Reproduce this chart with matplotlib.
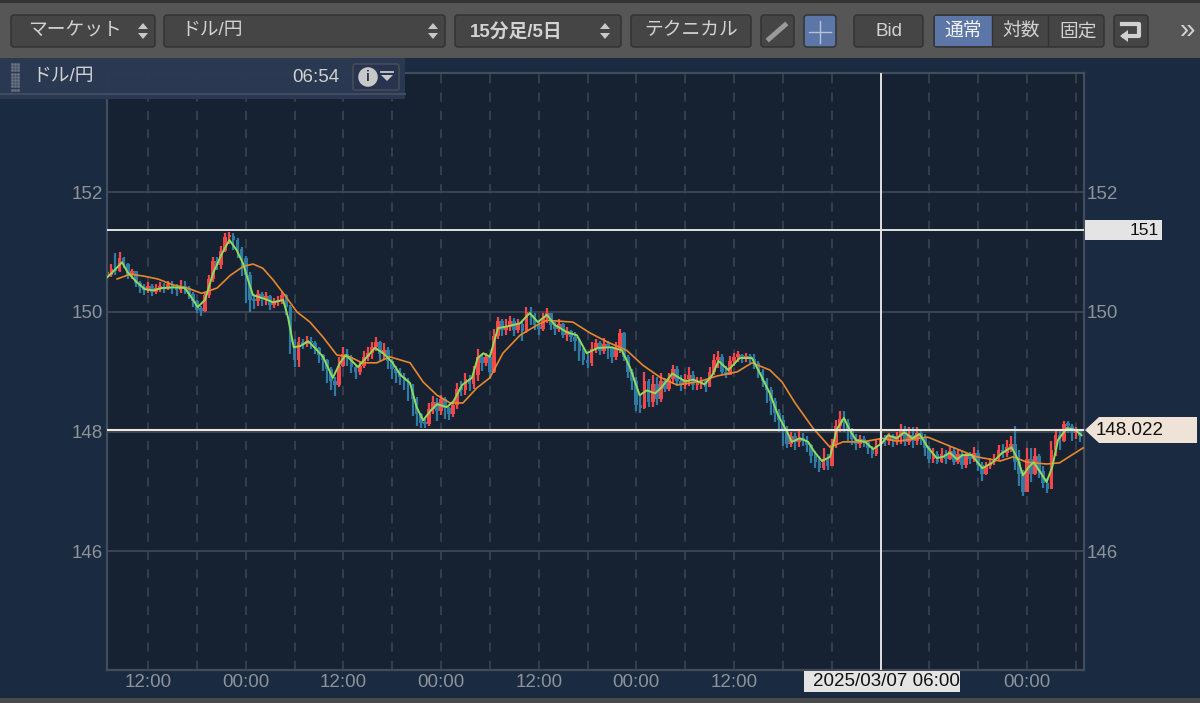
import numpy as np
import matplotlib
matplotlib.use("Agg")
import matplotlib.pyplot as plt
from matplotlib.patches import FancyBboxPatch, Rectangle, Polygon

plt.rcParams['font.family'] = ['Liberation Sans', 'Noto Sans CJK JP', 'DejaVu Sans']

# 30 minute bars, hours counted from the first 12:00 tick
first_hour = -5.0
bar_step = 0.5
closes = [
150.62,150.72,150.68,150.90,150.80,150.62,150.68,150.48,150.42,150.36,
150.44,150.34,150.40,150.42,150.38,150.46,150.42,150.36,150.44,150.40,
150.30,150.18,150.04,150.02,150.28,150.55,150.85,150.78,151.02,151.25,
151.26,151.20,151.05,150.90,150.62,150.20,150.18,150.30,150.22,150.26,
150.12,150.16,150.18,150.28,150.08,149.50,149.20,149.50,149.46,149.52,
149.48,149.40,149.28,149.20,149.05,148.85,148.78,149.10,149.30,149.24,
149.08,149.00,149.10,149.25,149.32,149.42,149.50,149.30,149.36,149.18,
149.05,148.98,148.92,148.85,148.78,148.55,148.30,148.14,148.12,148.38,
148.50,148.35,148.55,148.40,148.30,148.45,148.72,148.70,148.88,148.80,
148.95,149.25,149.15,149.25,149.00,149.60,149.85,149.70,149.75,149.85,
149.70,149.80,149.68,150.00,149.95,149.78,149.72,149.90,149.98,149.78,
149.72,149.80,149.62,149.68,149.58,149.52,149.35,149.20,149.15,149.38,
149.48,149.35,149.46,149.40,149.25,149.40,149.65,149.25,149.00,148.85,
148.45,148.40,148.85,148.50,148.80,148.55,148.85,148.72,148.88,149.05,
148.85,148.78,148.88,148.95,148.78,148.82,148.85,148.75,149.00,149.20,
149.25,149.00,148.95,149.18,149.25,149.28,149.22,149.26,149.22,149.15,
149.00,148.85,148.70,148.52,148.32,148.20,148.05,147.80,147.92,147.82,
147.90,147.85,147.78,147.60,147.50,147.40,147.55,147.42,147.78,148.10,
148.22,148.15,148.02,147.88,147.80,147.88,147.82,147.72,147.62,147.78,
147.90,147.84,147.92,147.85,147.92,148.02,147.82,147.95,147.85,147.98,
147.90,147.72,147.55,147.62,147.50,147.62,147.55,147.68,147.50,147.62,
147.45,147.60,147.55,147.65,147.45,147.30,147.42,147.50,147.55,147.70,
147.65,147.75,147.80,147.50,147.30,147.00,147.55,147.30,147.60,147.35,
147.15,147.05,147.70,147.95,147.85,148.12,148.10,147.98,148.02,147.92]
highs = [
150.70,150.80,150.98,151.00,150.92,150.82,150.72,150.68,150.52,150.46,
150.50,150.46,150.46,150.50,150.48,150.52,150.52,150.46,150.54,150.52,
150.44,150.34,150.20,150.10,150.32,150.62,150.92,150.92,151.10,151.32,
151.34,151.32,151.24,151.08,150.94,150.66,150.30,150.36,150.34,150.34,
150.28,150.24,150.26,150.34,150.30,150.12,149.55,149.58,149.55,149.60,
149.58,149.52,149.42,149.30,149.22,149.08,148.92,149.25,149.42,149.38,
149.28,149.12,149.18,149.34,149.42,149.50,149.58,149.52,149.48,149.42,
149.22,149.10,149.06,148.98,148.90,148.80,148.58,148.32,148.22,148.48,
148.60,148.56,148.62,148.58,148.42,148.52,148.82,148.85,148.98,148.94,
149.10,149.38,149.30,149.32,149.30,149.72,149.92,149.88,149.88,149.94,
149.90,149.88,149.85,150.08,150.08,149.98,149.85,149.98,150.06,149.98,
149.84,149.88,149.82,149.75,149.70,149.66,149.56,149.40,149.30,149.50,
149.55,149.52,149.56,149.52,149.42,149.50,149.72,149.66,149.28,149.05,
148.92,148.62,149.00,148.88,148.95,148.92,148.98,148.90,148.98,149.12,
149.10,148.94,148.96,149.08,149.02,148.92,148.92,148.88,149.08,149.30,
149.34,149.30,149.10,149.26,149.32,149.34,149.30,149.32,149.30,149.30,
149.18,149.04,148.90,148.74,148.56,148.38,148.28,148.10,148.00,147.98,
148.02,147.98,147.92,147.80,147.68,147.60,147.72,147.62,147.88,148.20,
148.35,148.34,148.22,148.06,147.96,147.94,147.92,147.86,147.76,147.86,
148.04,147.94,147.98,147.96,148.00,148.12,148.10,148.08,148.08,148.08,
148.04,147.96,147.76,147.72,147.68,147.72,147.70,147.76,147.74,147.70,
147.68,147.66,147.66,147.74,147.70,147.50,147.50,147.56,147.62,147.78,
147.80,147.86,147.92,148.10,147.70,147.36,147.72,147.72,147.72,147.62,
147.42,147.22,147.85,148.02,148.02,148.18,148.18,148.12,148.08,148.02]
lows = [
150.52,150.58,150.62,150.66,150.74,150.55,150.55,150.42,150.32,150.28,
150.32,150.26,150.30,150.34,150.32,150.36,150.30,150.26,150.32,150.30,
150.22,150.08,149.98,149.94,150.00,150.24,150.50,150.70,150.72,151.00,
151.14,151.04,150.90,150.60,150.15,150.00,150.05,150.10,150.10,150.12,
150.04,150.06,150.10,150.14,149.95,149.30,149.08,149.08,149.38,149.42,
149.38,149.30,149.15,149.02,148.82,148.70,148.60,148.75,149.08,149.10,
148.98,148.88,148.94,149.06,149.18,149.22,149.34,149.18,149.20,149.05,
148.88,148.82,148.78,148.70,148.52,148.26,148.10,148.06,148.06,148.10,
148.30,148.18,148.28,148.22,148.20,148.25,148.38,148.60,148.62,148.68,
148.72,148.85,149.02,149.10,148.88,148.98,149.55,149.60,149.62,149.68,
149.60,149.64,149.52,149.65,149.78,149.70,149.62,149.68,149.82,149.70,
149.62,149.66,149.56,149.52,149.50,149.34,149.18,149.12,149.06,149.10,
149.32,149.28,149.30,149.22,149.14,149.20,149.32,149.18,148.90,148.70,
148.35,148.32,148.38,148.42,148.42,148.44,148.50,148.66,148.68,148.80,
148.76,148.68,148.72,148.76,148.70,148.70,148.72,148.66,148.74,148.94,
149.06,148.96,148.90,148.94,149.10,149.16,149.14,149.16,149.14,149.04,
148.90,148.74,148.48,148.28,148.16,148.00,147.76,147.72,147.74,147.70,
147.74,147.76,147.66,147.48,147.40,147.32,147.36,147.36,147.42,147.72,
148.00,148.00,147.84,147.78,147.70,147.72,147.74,147.62,147.56,147.60,
147.74,147.76,147.78,147.74,147.78,147.80,147.76,147.78,147.72,147.78,
147.78,147.60,147.48,147.48,147.46,147.48,147.46,147.52,147.44,147.46,
147.38,147.40,147.46,147.50,147.34,147.18,147.28,147.38,147.44,147.52,
147.56,147.58,147.66,147.36,147.10,146.92,147.00,147.16,147.28,147.22,
147.06,146.98,147.04,147.60,147.70,147.82,147.98,147.84,147.88,147.82]

fast_hours = [-5.0,-4.1,-3.2,-2.5,-1.4,-0.4,0.6,1.8,3.1,4.5,5.4,6.1,7.0,8.0,9.1,10.0,10.9,11.7,12.3,12.9,
14.1,15.4,16.6,17.2,17.9,18.7,19.7,20.5,21.5,22.7,23.6,24.3,25.8,26.9,27.9,28.9,30.0,31.0,32.2,33.0,
33.8,34.6,35.5,36.7,37.5,38.6,39.8,40.5,41.2,42.0,43.0,44.2,45.7,46.9,47.9,49.0,50.0,51.5,52.7,53.9,
55.3,57.0,58.2,59.2,60.4,61.3,62.3,63.1,64.4,66.0,67.0,68.4,69.3,70.1,71.3,72.7,74.2,75.2,76.4,77.4,
78.5,79.1,80.1,81.1,81.9,82.8,83.8,84.6,85.5,86.2,87.0,88.1,89.1,90.2,90.9,92.0,92.9,93.9,94.8,95.8,
96.9,97.7,98.5,99.4,100.1,101.2,102.5,103.7,104.9,106.1,106.9,107.5,108.1,108.8,109.6,110.4,111.1,111.8,112.9,113.9,114.7]
fast_ma = [150.58,150.70,150.83,150.66,150.50,150.38,150.36,150.40,150.41,150.40,150.23,150.08,150.20,150.65,150.98,151.20,151.03,150.80,150.53,150.28,
150.23,150.16,150.20,149.91,149.41,149.43,149.51,149.40,149.25,148.90,149.15,149.28,149.08,149.25,149.40,149.31,149.16,148.95,148.81,148.41,
148.19,148.33,148.46,148.41,148.50,148.78,148.90,149.23,149.31,149.25,149.73,149.76,149.81,149.98,149.83,149.95,149.78,149.66,149.61,149.31,
149.40,149.41,149.36,149.08,148.61,148.69,148.64,148.74,148.97,148.84,148.87,148.79,148.94,149.18,149.03,149.23,149.23,148.97,148.64,148.28,
148.00,147.83,147.89,147.83,147.66,147.51,147.58,148.03,148.23,148.03,147.86,147.83,147.71,147.81,147.94,147.89,147.99,147.89,147.96,147.74,
147.56,147.58,147.65,147.54,147.61,147.61,147.39,147.48,147.64,147.74,147.53,147.27,147.39,147.49,147.33,147.16,147.41,147.86,148.06,148.03,147.94]

slow_hours = [-3.8,-2.2,-0.6,1.2,3.1,4.8,6.6,8.5,10.1,11.7,12.9,14.1,15.4,16.8,18.3,19.9,21.5,23.2,24.8,26.3,28.1,
29.7,32.2,33.8,35.5,37.1,38.7,40.4,42.0,43.6,45.7,47.8,49.0,52.2,54.3,56.4,58.8,60.8,62.9,65.0,67.8,
69.9,72.4,74.2,76.4,77.9,79.5,81.7,83.8,85.4,87.8,90.3,92.0,95.8,98.5,101.8,104.7,106.3,108.0,110.4,112.0,113.5,114.9]
slow_ma = [150.55,150.63,150.60,150.55,150.45,150.40,150.31,150.40,150.61,150.76,150.80,150.73,150.53,150.28,150.00,149.83,149.58,149.28,149.25,149.15,149.15,
149.25,149.15,148.83,148.61,148.48,148.48,148.73,148.90,149.31,149.61,149.78,149.86,149.83,149.65,149.50,149.36,149.11,148.91,148.78,148.84,
148.93,149.00,149.15,149.03,148.83,148.48,148.06,147.74,147.83,147.83,147.89,147.84,147.91,147.76,147.58,147.51,147.58,147.49,147.46,147.48,147.61,147.73]

# the 12:00 ticks at 84 and 96 sit under the date tag, so only these carry a label
x_ticks = [0,12,24,36,48,60,72,108]
x_labels = ['12:00','00:00','12:00','00:00','12:00','00:00','12:00','00:00']
grid_hours = list(range(0, 115, 6))
y_ticks = [146,148,150,152]
y_ticks_right = [146,150,152]
cross_hour = 90.1
cross_label = '2025/03/07 06:00'
last_price = 148.022
cross_price = 151.37

C_BG = '#1a2a40'
C_PLOT = '#162232'
C_GRID = '#3c4654'
C_TEXT = '#8e9399'
C_UP = '#f4474a'
C_DOWN = '#2f7ba3'

W, H = 1200, 703
fig = plt.figure(figsize=(12, 7.03), dpi=100, facecolor=C_BG)
ax = fig.add_axes([107/W, 1-670/H, (1084-107)/W, (670-73)/H], facecolor=C_PLOT)

bar_x = first_hour + bar_step*np.arange(len(closes))
closes = np.array(closes)
opens = np.r_[closes[0], closes[:-1]]
up = closes >= opens
colors = np.where(up, C_UP, C_DOWN)

ax.set_xlim(-5.04, 115.0)
ax.set_ylim(144.02, 153.99)
ax.set_yticks(y_ticks)
ax.set_xticks(x_ticks)
ax.set_xticklabels(x_labels)
ax.tick_params(length=0, labelsize=13.5, labelcolor=C_TEXT, pad=3)
right = ax.secondary_yaxis('right')
right.set_yticks(y_ticks_right)
right.tick_params(length=0, labelsize=13.5, labelcolor=C_TEXT, pad=2)
right.spines['right'].set_visible(False)
ax.grid(axis='y', color=C_GRID, lw=1.3)
ax.set_axisbelow(True)
for h in grid_hours:
    ax.axvline(h, color=C_GRID, lw=1.1, ls=(0, (6, 6)), zorder=1)
for s in ax.spines.values():
    s.set_color('#434c5a')
    s.set_linewidth(1.6)

ax.vlines(bar_x, lows, highs, colors=colors, lw=1.6, zorder=2)
ax.bar(bar_x, np.maximum(np.abs(closes-opens), 0.04), bottom=np.minimum(closes, opens), width=0.46,
       color=colors, lw=0, zorder=2)
ax.plot(slow_hours, slow_ma, color='#e8872c', lw=1.2, zorder=3)
ax.plot(fast_hours, fast_ma, color='#8fdc5a', lw=1.4, zorder=4)

ax.axhline(last_price, color='#efe6da', lw=1.5, zorder=5)
ax.axhline(cross_price, color='#f0f0f0', lw=1.3, zorder=5)
ax.axvline(cross_hour, color='#e0e0e0', lw=1.4, zorder=5)

# toolbar and labels, drawn in screen pixels on top of the chart
ui = fig.add_axes([0, 0, 1, 1], zorder=10)
ui.set_xlim(0, W)
ui.set_ylim(H, 0)
ui.axis('off')
ui.patch.set_alpha(0)


def button(x0, x1, color='#454545', y0=15, y1=47):
    ui.add_patch(FancyBboxPatch((x0+3, y0+3), x1-x0-6, y1-y0-6, boxstyle='round,pad=3',
                                fc=color, ec='#333333', lw=1.1))


def updown(x):
    ui.add_patch(Polygon([(x-5, 29), (x+5, 29), (x, 23)], fc='#c8c8c8', ec='none'))
    ui.add_patch(Polygon([(x-5, 33), (x+5, 33), (x, 39)], fc='#c8c8c8', ec='none'))


ui.add_patch(Rectangle((0, 0), W, 58, fc='#565656', ec='none'))
ui.add_patch(Rectangle((0, 0), W, 3, fc='#333333', ec='none'))
ui.add_patch(Rectangle((0, 698), W, 5, fc='#4a4a4a', ec='none'))

button(11, 155)
button(164, 445)
button(455, 621)
button(631, 751)
button(761, 794)
button(804, 836, '#5d76a8')
button(854, 923)
button(934, 1104)
ui.add_patch(Rectangle((935, 16), 57, 30, fc='#5d76a8', ec='none'))
ui.plot([992, 992], [16, 46], color='#333333', lw=1)
ui.plot([1048, 1048], [16, 46], color='#333333', lw=1)
button(1114, 1148)
updown(143)
updown(433)
updown(605)

btn_text = '#d2d2d2'
ui.text(28, 31, 'マーケット', color=btn_text, fontsize=13.5, va='center')
ui.text(181, 31, 'ドル/円', color=btn_text, fontsize=13.5, va='center')
ui.text(470, 32, '15分足/5日', color=btn_text, fontsize=13.5, va='center', fontweight='bold')
ui.text(691, 31, 'テクニカル', color=btn_text, fontsize=13.5, va='center', ha='center')
ui.text(889, 32, 'Bid', color=btn_text, fontsize=13.5, va='center', ha='center')
ui.text(963, 32, '通常', color='#f2f2f2', fontsize=13.5, va='center', ha='center')
ui.text(1021, 32, '対数', color=btn_text, fontsize=13.5, va='center', ha='center')
ui.text(1078, 32, '固定', color=btn_text, fontsize=13.5, va='center', ha='center')
ui.text(1188, 31, '»', color=btn_text, fontsize=20, va='center', ha='center')
ui.plot([809, 831], [32, 32], color='#b8c2d6', lw=1)
ui.plot([820, 820], [21, 43], color='#b8c2d6', lw=1)
ui.plot([769, 785], [39, 25], color='#9a9a9a', lw=3.5)
ui.plot([1122, 1139, 1139, 1124], [24, 24, 36, 36], color='#d0d0d0', lw=3)
ui.add_patch(Polygon([(1120, 36), (1128, 30), (1128, 42)], fc='#d0d0d0', ec='none'))

# header panel over the top left corner
ui.add_patch(Rectangle((0, 58), 405, 41, fc='#2b3953', ec='none', alpha=0.97))
ui.plot([0, 405], [94, 94], color='#414c62', lw=1.5)
for dx in [12, 15, 18]:
    ui.plot([dx]*9, np.arange(64, 91, 3.2), ls='none', marker='s', ms=1, color='#66707f')
ui.text(32, 77, 'ドル/円', color=btn_text, fontsize=13.5, va='center')
ui.text(339, 78, '06:54', color=btn_text, fontsize=13.5, va='center', ha='right')
ui.add_patch(FancyBboxPatch((355, 66), 42, 22, boxstyle='round,pad=2', fc='#28334f', ec='#464b55', lw=1.2))
ui.text(368, 77, 'i', color='#2b3953', fontsize=10, fontweight='bold', va='center', ha='center',
        bbox=dict(boxstyle='circle,pad=0.2', fc='#c8c8c8', ec='none'))
ui.add_patch(Polygon([(381, 75), (393, 75), (387, 81)], fc='#c8c8c8', ec='none'))
ui.plot([381, 393], [71.5, 71.5], color='#c8c8c8', lw=1.3)

# price and date tags
ui.add_patch(Rectangle((1085, 220), 77, 20, fc='#e4e4e4', ec='none'))
ui.text(1159, 230.5, '151', color='#111111', fontsize=12.5, va='center', ha='right')
ui.add_patch(Polygon([(1085, 430), (1099, 417), (1197, 417), (1197, 443), (1099, 443)], fc='#eee3d6', ec='none'))
ui.text(1096, 430.5, '148.022', color='#111111', fontsize=13.5, va='center')
ui.add_patch(Rectangle((804, 671), 156, 21, fc='#e4e4e4', ec='none'))
ui.text(960, 681.5, cross_label, color='#111111', fontsize=13.5, va='center', ha='right')

fig.savefig('out.png', dpi=100, facecolor=fig.get_facecolor())
